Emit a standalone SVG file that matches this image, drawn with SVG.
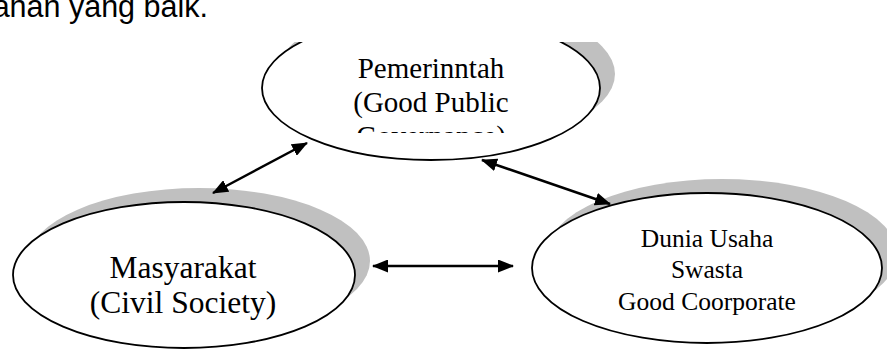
<svg xmlns="http://www.w3.org/2000/svg" width="887" height="349" viewBox="0 0 887 349">
<style>
.shadow{fill:#c0c0c0;stroke:none}
.node{fill:#ffffff;stroke:#000000;stroke-width:1.8}
.lbl{font-family:"Liberation Serif","Times New Roman",serif;fill:#000000;text-anchor:middle}
.conn{stroke:#000000;stroke-width:2.5;fill:none;marker-start:url(#ah);marker-end:url(#ah)}
</style>
<defs>
<marker id="ah" viewBox="0 0 16 13" refX="15" refY="6.5" markerWidth="16" markerHeight="13" markerUnits="userSpaceOnUse" orient="auto-start-reverse">
<path d="M0,0 L16,6.5 L0,13 Z" fill="#000000"/>
</marker>
<clipPath id="clipShape"><rect x="240" y="42" width="400" height="140"/></clipPath>
<clipPath id="clipTop"><rect x="262" y="42" width="340" height="91"/></clipPath>
</defs>
<text x="208" y="17" font-family="Liberation Sans, Arial, sans-serif" font-size="30.5" text-anchor="end" fill="#000000">ahan yang baik.</text>
<g id="node-pemerintah">
<g clip-path="url(#clipShape)">
<ellipse class="shadow" cx="446" cy="74" rx="169" ry="72"/>
<ellipse class="node" cx="431" cy="88" rx="169" ry="72"/>
</g>
<g clip-path="url(#clipTop)">
<text class="lbl" x="431" y="78" font-size="29">Pemerinntah</text>
<text class="lbl" x="431" y="112" font-size="29">(Good Public</text>
<text class="lbl" x="431" y="146" font-size="29">Governance)</text>
</g>
</g>
<g id="node-masyarakat">
<ellipse class="shadow" cx="199" cy="261" rx="171" ry="73"/>
<ellipse class="node" cx="184" cy="275" rx="171" ry="73"/>
<text class="lbl" x="183" y="278" font-size="31.5">Masyarakat</text>
<text class="lbl" x="183" y="313" font-size="31.5">(Civil Society)</text>
</g>
<g id="node-dunia">
<ellipse class="shadow" cx="722" cy="254" rx="175" ry="75"/>
<ellipse class="node" cx="707" cy="268" rx="175" ry="75"/>
<text class="lbl" x="707" y="247" font-size="25.5">Dunia Usaha</text>
<text class="lbl" x="707" y="278" font-size="25.5">Swasta</text>
<text class="lbl" x="707" y="310" font-size="25.5">Good Coorporate</text>
</g>
<g id="connectors">
<line class="conn" x1="213" y1="193" x2="307" y2="143"/>
<line class="conn" x1="482" y1="160" x2="610" y2="204"/>
<line class="conn" x1="373" y1="266" x2="513" y2="266"/>
</g>
</svg>
